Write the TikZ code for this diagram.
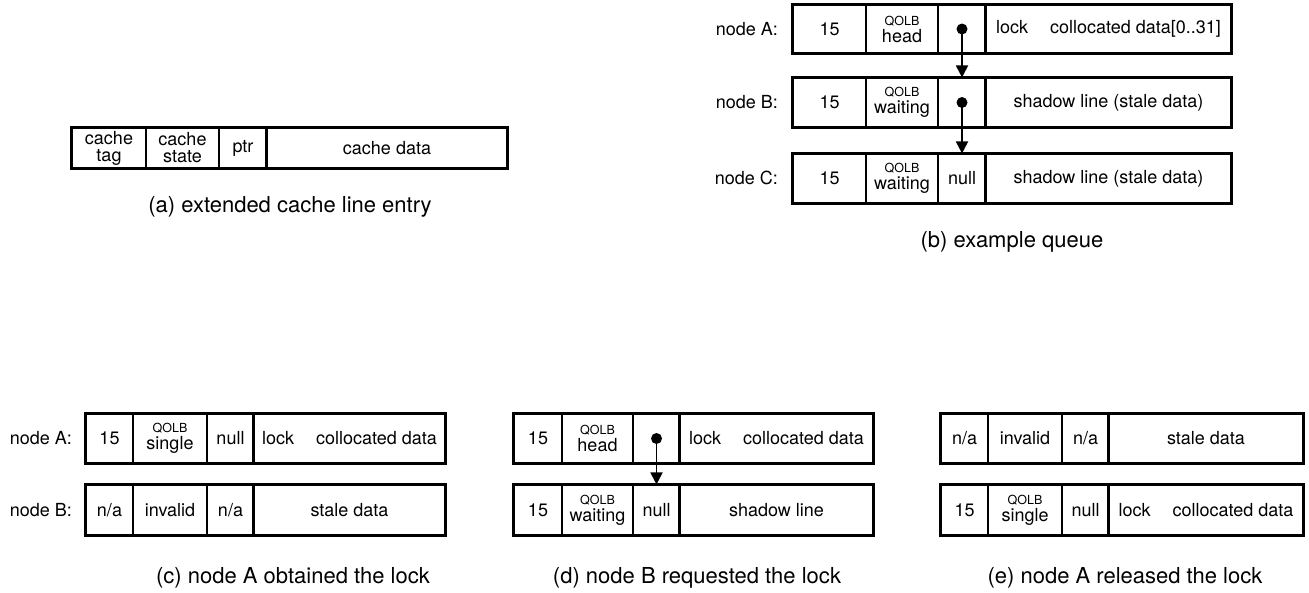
\documentclass[tikz,border=0pt]{standalone}
\usepackage{fontspec}
\setmainfont{TeX Gyre Heros}
\usetikzlibrary{arrows.meta}
\newcommand\cellfont{\fontsize{18}{17}\selectfont}
\newcommand\smallqolb{\fontsize{12.5}{12}\selectfont}
\newcommand\capfont{\fontsize{22}{24}\selectfont}
\newcommand\qolb[1]{{\smallqolb QOLB}\\[0pt]#1}
\newcommand\lockdata[1]{lock\hspace{22pt}collocated data#1}
\tikzset{
  cell/.style={draw, line width=1.1pt, inner sep=0pt, align=center, font=\cellfont},
  rowframe/.style={line width=2.4pt},
  datasep/.style={line width=2pt},
  lbl/.style={anchor=east, font=\cellfont, inner sep=0pt},
  caption/.style={font=\capfont, inner sep=0pt},
  ptrline/.style={line width=1.8pt, -{Triangle[width=12pt,length=12pt]}},
}
\newcommand\mycell[6]{\node[cell, minimum width={(#3-#2)*1pt}, minimum height={(#5-#4)*1pt}] (#1) at ({(#2+#3)/2},{(#4+#5)/2}) {#6};}
\newcommand\setcols[5]{\def\xA{#1}\def\xB{#2}\def\xC{#3}\def\xD{#4}\def\xE{#5}}
\newcommand\qrow[7]{%
  \mycell{#1a}{\xA}{\xB}{#2}{#3}{#4}
  \mycell{#1b}{\xB}{\xC}{#2}{#3}{#5}
  \mycell{#1c}{\xC}{\xD}{#2}{#3}{#6}
  \mycell{#1d}{\xD}{\xE}{#2}{#3}{#7}
  \draw[rowframe] (#1a.north west) rectangle (#1d.south east);
  \draw[datasep] (#1d.north west) -- (#1d.south west);
}
\begin{document}
\begin{tikzpicture}[x=1pt,y=-1pt]
\useasboundingbox (0,0) rectangle (1309,592);

% (a)
\setcols{72}{146}{219}{267}{507}
\qrow{a}{128}{168}{cache\\tag}{cache\\state}{ptr}{cache data}
\node[caption] (capa) at (290,207) {(a) extended cache line entry};

% (b)
\setcols{793}{866}{938}{986}{1231}
\qrow{bA}{5}{53}{15}{\qolb{head}}{}{\lockdata{[0..31]}}
\qrow{bB}{78}{127}{15}{\qolb{waiting}}{}{shadow line (stale data)}
\qrow{bC}{154}{203}{15}{\qolb{waiting}}{null}{shadow line (stale data)}
\node[lbl] (lbA) at (778,29) {node A:};
\node[lbl] (lbB) at (778,102) {node B:};
\node[lbl] (lbC) at (778,178) {node C:};
\fill (bAc.center) circle[radius=5.5pt];
\fill (bBc.center) circle[radius=5.5pt];
\draw[ptrline] (bAc.center) -- (bBc.north);
\draw[ptrline] (bBc.center) -- (bCc.north);
\node[caption] (capb) at (1012,242) {(b) example queue};

% (c)
\setcols{86}{133}{207}{254}{445}
\qrow{cA}{414}{463}{15}{\qolb{single}}{null}{\lockdata{}}
\qrow{cB}{485}{535}{n/a}{invalid}{n/a}{stale data}
\node[lbl] (lcA) at (72,438) {node A:};
\node[lbl] (lcB) at (72,510) {node B:};
\node[caption] (capc) at (293,578) {(c) node A obtained the lock};

% (d)
\setcols{514}{562}{633}{680}{873}
\qrow{dA}{414}{463}{15}{\qolb{head}}{}{\lockdata{}}
\qrow{dB}{485}{535}{15}{\qolb{waiting}}{null}{shadow line}
\fill (dAc.center) circle[radius=5.5pt];
\draw[ptrline] (dAc.center) -- (dBc.north);
\node[caption] (capd) at (697,578) {(d) node B requested the lock};

% (e)
\setcols{941}{988}{1062}{1109}{1303}
\qrow{eA}{414}{463}{n/a}{invalid}{n/a}{stale data}
\qrow{eB}{485}{535}{15}{\qolb{single}}{null}{\lockdata{}}
\node[caption] (cape) at (1125,578) {(e) node A released the lock};
\end{tikzpicture}
\end{document}
